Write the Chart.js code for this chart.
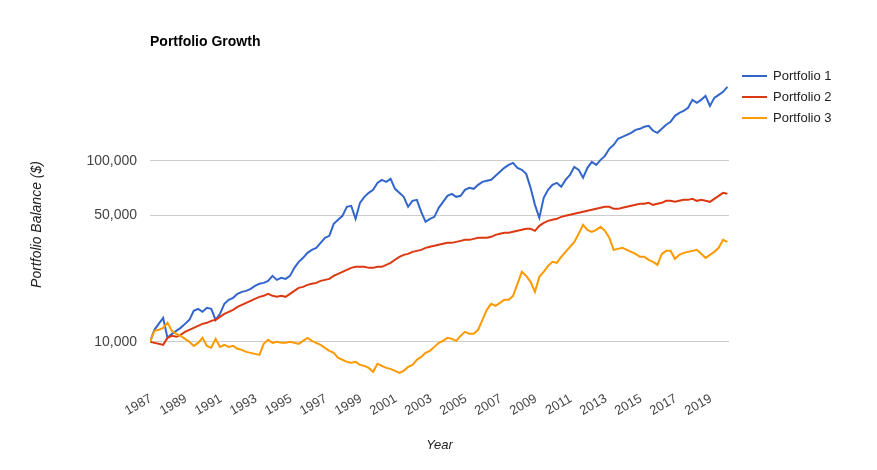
<!DOCTYPE html>
<html lang="en">
<head>
<meta charset="UTF-8">
<title>Portfolio Growth</title>
<script src="https://cdn.jsdelivr.net/npm/chart.js"></script>
<style>
    * { margin: 0; padding: 0; box-sizing: border-box; }
    body { background: #fff; width: 877px; height: 470px; overflow: hidden; }
    #wrap { position: relative; width: 877px; height: 470px; }
</style>
</head>
<body>
<div id="wrap"><canvas id="growthChart" width="877" height="470"></canvas></div>
<script>
// ---- data (quarterly balances) ----
const chartTitle = 'Portfolio Growth';
const seriesNames = ['Portfolio 1', 'Portfolio 2', 'Portfolio 3'];
const seriesColors = ['#3366cc', '#dc3912', '#ff9900'];
const yearTicks = [1987, 1989, 1991, 1993, 1995, 1997, 1999, 2001, 2003,
                   2005, 2007, 2009, 2011, 2013, 2015, 2017, 2019];
const balanceTicks = [10000, 50000, 100000];

// one value per quarter, Q1 1987 .. Q1 2020
const portfolio1 = [
    10000, 11650, 12570, 13570,   10520, 11070, 11500, 11950,
    12570, 13230, 14840, 15220,   14650, 15410, 15220, 13230,
    14280, 16220, 17060, 17500,   18420, 18890, 19130, 19630,
    20390, 20920, 21180, 21720,   23150, 22000, 22570, 22280,
    23150, 25630, 27670, 29110,   31020, 32230, 33060, 35230,
    37550, 38520, 44880, 47220,   49680, 55710, 56420, 47820,
    58610, 63260, 66560, 69150,   75590, 78530, 76560, 79530,
    70040, 66560, 63260, 55710,   60120, 60880, 52270, 46030,
    47820, 49050, 55010, 59360,   64070, 65720, 63260, 64070,
    69150, 70940, 70040, 73710,   76560, 77540, 78530, 82640,
    86960, 91490, 95050, 97490,   91490, 89200, 84770, 70940,
    57140, 48430, 62450, 69150,   73710, 75590, 71860, 78530,
    83700, 92670, 89200, 80570,   91490, 98740, 95050, 101300,
    106500, 116500, 122600, 132400, 135700, 139200, 142800, 148400,
    150300, 154200, 156200, 146600, 142800, 150300, 158200, 164300,
    177300, 184100, 188900, 196300, 217300, 209100, 217300, 228700,
    201300, 222900, 231600, 240600, 256400
];
const portfolio2 = [
    10000, 9870, 9750, 9620,      10520, 10790, 10660, 10930,
    11360, 11650, 11950, 12260,   12570, 12740, 13060, 13230,
    13740, 14280, 14650, 15030,   15610, 16010, 16420, 16840,
    17280, 17730, 17960, 18420,   17960, 17730, 17960, 17730,
    18420, 19130, 19880, 20130,   20650, 20920, 21180, 21720,
    22000, 22280, 23150, 23760,   24360, 24990, 25630, 25960,
    25960, 25960, 25630, 25630,   25960, 25960, 26630, 27320,
    28400, 29480, 30240, 30630,   31420, 31820, 32230, 33060,
    33490, 33920, 34350, 34790,   35230, 35230, 35680, 36140,
    36600, 36600, 37070, 37550,   37550, 37550, 38030, 39010,
    39510, 40020, 40020, 40530,   41050, 41570, 42110, 42110,
    41050, 43740, 45450, 46620,   47220, 47820, 49050, 49680,
    50320, 50960, 51610, 52270,   52940, 53620, 54300, 55010,
    55710, 55710, 54300, 54300,   55010, 55710, 56420, 57140,
    57880, 57880, 58620, 57140,   57880, 58620, 60120, 60120,
    59360, 60120, 60880, 60880,   61660, 60120, 60880, 60120,
    59360, 61660, 64070, 66560,   65720
];
const portfolio3 = [
    10000, 11500, 11650, 11950,   12740, 11500, 11070, 10790,
    10390, 10000, 9500, 9870,     10520, 9500, 9270, 10390,
    9380, 9620, 9380, 9500,       9150, 9030, 8800, 8690,
    8580, 8470, 9750, 10260,      9870, 10000, 9870, 9870,
    10000, 9870, 9750, 10130,     10520, 10130, 9870, 9620,
    9270, 8920, 8690, 8160,       7960, 7750, 7660, 7750,
    7460, 7370, 7180, 6830,       7560, 7370, 7180, 7090,
    6920, 6740, 6920, 7270,       7460, 7960, 8260, 8690,
    8920, 9380, 9870, 10130,      10520, 10390, 10130, 10790,
    11360, 11070, 11070, 11650,   13230, 15030, 16220, 15810,
    16420, 17060, 17060, 17960,   20920, 24360, 23150, 21450,
    18890, 22860, 24360, 26290,   27670, 27320, 29480, 31420,
    33490, 35680, 39510, 44310,   41570, 40530, 41570, 43190,
    41050, 37550, 32230, 32640,   33060, 32230, 31420, 30630,
    29480, 29480, 28400, 27670,   26630, 30630, 31820, 31820,
    28760, 30240, 31020, 31420,   31820, 32230, 30630, 29110,
    30240, 31420, 33060, 36600,   35680
];
const seriesValues = [portfolio1, portfolio2, portfolio3];

// decimal year of each quarterly sample
const quarters = portfolio1.map((_, i) => 1987 + i / 4);

const FONT = 'Arial, "Liberation Sans", sans-serif';

// title and legend drawn in Google-chart style
const chartText = {
    id: 'chartText',
    afterDraw(chart) {
        const c = chart.ctx;
        const area = chart.chartArea;
        c.save();
        c.fillStyle = '#000';
        c.font = 'bold 14px ' + FONT;
        c.textBaseline = 'alphabetic';
        c.fillText(chartTitle, area.left, 46);

        c.font = '13px ' + FONT;
        c.textBaseline = 'middle';
        chart.data.datasets.forEach((ds, i) => {
            const y = 76 + i * 21;
            const x = area.right + 13;
            c.strokeStyle = ds.borderColor;
            c.lineWidth = 2;
            c.beginPath();
            c.moveTo(x, y);
            c.lineTo(x + 25, y);
            c.stroke();
            c.fillStyle = '#222';
            c.fillText(ds.label, x + 31, y);
        });
        c.restore();
    }
};

const ctx = document.getElementById('growthChart').getContext('2d');

new Chart(ctx, {
    type: 'line',
    data: {
        datasets: seriesNames.map((name, s) => ({
            label: name,
            data: quarters.map((q, i) => ({ x: q, y: seriesValues[s][i] })),
            borderColor: seriesColors[s],
            backgroundColor: seriesColors[s],
            borderWidth: 2,
            pointRadius: 0,
            tension: 0,
            order: 3 - s
        }))
    },
    options: {
        responsive: false,
        animation: false,
        layout: { padding: { top: 67, right: 148, bottom: 0, left: 0 } },
        plugins: {
            legend: { display: false },
            tooltip: { enabled: false }
        },
        scales: {
            x: {
                type: 'linear',
                min: 1987,
                max: 2020.09,
                afterBuildTicks: axis => { axis.ticks = yearTicks.map(v => ({ value: v })); },
                afterFit: axis => { axis.height = 88; },
                grid: { display: false },
                border: { display: false },
                ticks: {
                    autoSkip: false,
                    minRotation: 30,
                    maxRotation: 30,
                    padding: 1,
                    labelOffset: 1,
                    color: '#444',
                    font: { family: FONT, size: 13 },
                    callback: v => String(v)
                },
                title: {
                    display: true,
                    text: 'Year',
                    color: '#222',
                    font: { family: FONT, size: 13, style: 'italic' },
                    padding: { top: 0, bottom: 17 }
                }
            },
            y: {
                type: 'logarithmic',
                min: 6000,
                max: 330000,
                afterBuildTicks: axis => { axis.ticks = balanceTicks.map(v => ({ value: v })); },
                afterFit: axis => { axis.width = 150; },
                grid: { color: '#cccccc', drawTicks: false },
                border: { display: false },
                ticks: {
                    padding: 13,
                    color: '#444',
                    font: { family: FONT, size: 14 },
                    callback: v => Number(v).toLocaleString('en-US')
                },
                title: {
                    display: true,
                    text: 'Portfolio Balance ($)',
                    color: '#222',
                    font: { family: FONT, size: 14, style: 'italic' },
                    padding: { top: 29, bottom: 0 }
                }
            }
        }
    },
    plugins: [chartText]
});
</script>
</body>
</html>
